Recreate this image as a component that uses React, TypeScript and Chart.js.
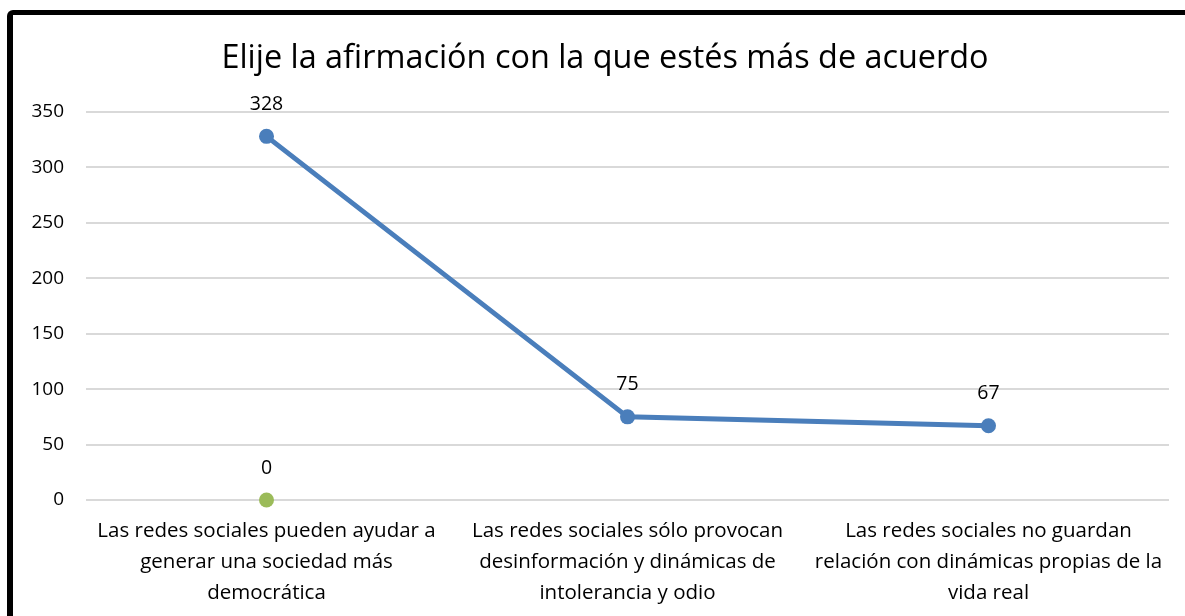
import React, { useEffect, useRef } from 'react';
import { Chart, registerables } from 'chart.js';

Chart.register(...registerables);

const chartTitle = 'Elije la afirmación con la que estés más de acuerdo';
const categories: string[][] = [
  ['Las redes sociales pueden ayudar a', 'generar una sociedad más', 'democrática'],
  ['Las redes sociales sólo provocan', 'desinformación y dinámicas de', 'intolerancia y odio'],
  ['Las redes sociales no guardan', 'relación con dinámicas propias de la', 'vida real'],
];
const responses = [328, 75, 67];
const zeroSeries = [0, null, null];
const yMin = 0;
const yMax = 350;
const yStep = 50;

const FONT = '"Open Sans", "Noto Sans", sans-serif';

const dataLabels = {
  id: 'dataLabels',
  afterDatasetsDraw(chart: any) {
    const ctx = chart.ctx;
    chart.data.datasets.forEach((ds: any, i: number) => {
      const meta = chart.getDatasetMeta(i);
      meta.data.forEach((pt: any, j: number) => {
        const v = ds.data[j];
        if (v === null || v === undefined) return;
        ctx.save();
        ctx.font = `19.5px ${FONT}`;
        ctx.fillStyle = '#000';
        ctx.textAlign = 'center';
        ctx.textBaseline = 'middle';
        ctx.fillText(String(v), pt.x, pt.y - 32);
        ctx.restore();
      });
    });
  },
};

const titleShift = {
  id: 'titleShift',
  afterLayout(chart: any) {
    const t = chart.titleBlock;
    if (t) t.left += 15;
  },
};

export default function App() {
  const ref = useRef<HTMLCanvasElement | null>(null);
  useEffect(() => {
    if (!ref.current) return;
    const chart = new Chart(ref.current, {
      type: 'line',
      data: {
        labels: categories,
        datasets: [
          {
            data: responses,
            borderColor: '#4A7EBB',
            backgroundColor: '#4A7EBB',
            borderWidth: 5,
            pointRadius: 7.5,
            pointBorderWidth: 0,
            pointBackgroundColor: '#4A7EBB',
            tension: 0,
            clip: false,
          },
          {
            data: zeroSeries,
            borderColor: '#9BBB59',
            backgroundColor: '#9BBB59',
            borderWidth: 5,
            pointRadius: 7.5,
            pointBorderWidth: 0,
            pointBackgroundColor: '#9BBB59',
            spanGaps: false,
            clip: false,
          },
        ],
      },
      options: {
        responsive: false,
        animation: false,
        layout: { padding: { left: 26, right: 31, top: 0, bottom: 0 } },
        plugins: {
          legend: { display: false },
          tooltip: { enabled: false },
          title: {
            display: true,
            text: chartTitle,
            color: '#000',
            font: { family: FONT, size: 32.4, weight: 'normal', lineHeight: 1.2 },
            padding: { top: 39, bottom: 34.1 },
          },
        },
        scales: {
          x: {
            offset: true,
            grid: { display: false },
            border: { display: false },
            ticks: {
              color: '#000',
              font: { family: FONT, size: 20.5, lineHeight: 1.5 },
              padding: 8,
              maxRotation: 0,
              autoSkip: false,
            },
            afterFit: (s: any) => {
              s.height = 116;
            },
          },
          y: {
            min: yMin,
            max: yMax,
            ticks: {
              stepSize: yStep,
              color: '#000',
              font: { family: FONT, size: 19 },
              padding: 22,
            },
            grid: { color: '#D9D9D9', lineWidth: 2, drawTicks: false },
            border: { display: false },
            afterFit: (s: any) => {
              s.width = 60;
            },
          },
        },
      },
      plugins: [dataLabels, titleShift],
    } as any);
    return () => chart.destroy();
  }, []);

  return (
    <div
      style={{
        position: 'fixed',
        left: 0,
        top: 0,
        width: 1185,
        height: 616,
        overflow: 'hidden',
        background: '#fff',
      }}
    >
      <canvas
        ref={ref}
        width={1200}
        height={616}
        style={{ position: 'absolute', left: 0, top: 0, width: 1200, height: 616 }}
      />
      <div
        style={{
          position: 'absolute',
          left: 7,
          top: 10,
          width: 1300,
          height: 700,
          borderTop: '5px solid #000',
          borderLeft: '6px solid #000',
          borderTopLeftRadius: 6,
          boxSizing: 'border-box',
          pointerEvents: 'none',
        }}
      />
    </div>
  );
}
